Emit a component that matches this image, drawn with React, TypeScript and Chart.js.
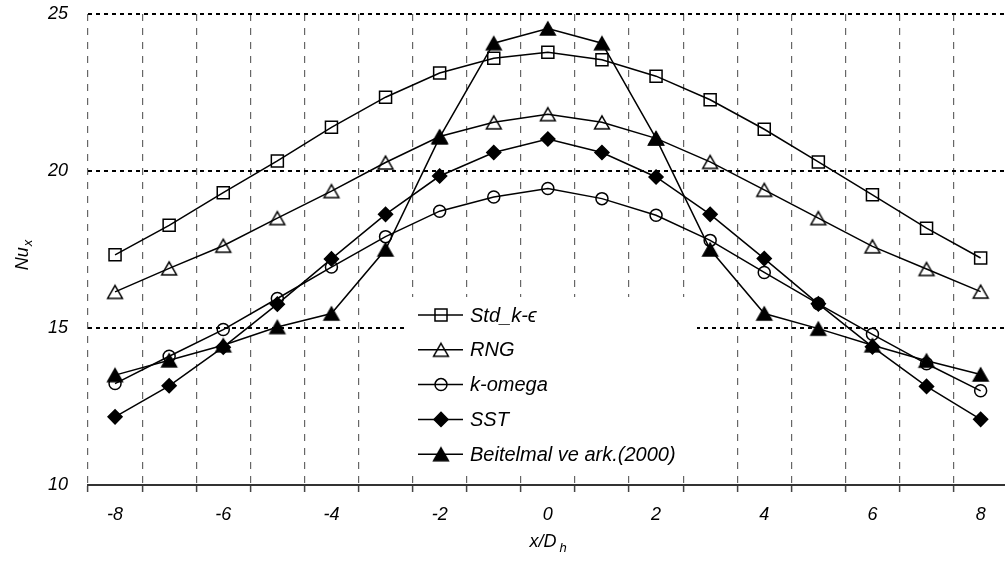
import React, { useEffect, useRef } from "react";
import { Chart, registerables } from "chart.js";

Chart.register(...registerables);

const xPositions = [-8, -7, -6, -5, -4, -3, -2, -1, 0, 1, 2, 3, 4, 5, 6, 7, 8];
const xTickLabels = [-8, -6, -4, -2, 0, 2, 4, 6, 8];
const xGridBoundaries = [-8.5, -7.5, -6.5, -5.5, -4.5, -3.5, -2.5, -1.5, -0.5, 0.5, 1.5, 2.5, 3.5, 4.5, 5.5, 6.5, 7.5];
const yTickValues = [10, 15, 20, 25];

const stdKe = [17.33, 18.27, 19.31, 20.32, 21.39, 22.35, 23.12, 23.59, 23.78, 23.54, 23.02, 22.27, 21.33, 20.29, 19.24, 18.18, 17.23];
const rng = [16.15, 16.9, 17.62, 18.5, 19.36, 20.27, 21.1, 21.55, 21.81, 21.55, 21.04, 20.29, 19.4, 18.5, 17.6, 16.88, 16.16];
const kOmega = [13.23, 14.1, 14.95, 15.94, 16.94, 17.91, 18.72, 19.17, 19.44, 19.12, 18.59, 17.79, 16.77, 15.77, 14.8, 13.86, 13.0];
const sst = [12.17, 13.16, 14.39, 15.76, 17.2, 18.62, 19.84, 20.59, 21.02, 20.59, 19.81, 18.62, 17.21, 15.77, 14.4, 13.14, 12.09];
const beitelmal = [13.5, 13.97, 14.45, 15.03, 15.46, 17.5, 21.07, 24.07, 24.54, 24.07, 21.04, 17.5, 15.46, 14.98, 14.45, 13.96, 13.52];

const seriesNames = ["Std_k-ϵ", "RNG", "k-omega", "SST", "Beitelmal ve ark.(2000)"];
const seriesValues = [stdKe, rng, kOmega, sst, beitelmal];
const seriesStyles = ["rect", "triangle", "circle", "rectRot", "triangle"];
const seriesFilled = [false, false, false, true, true];
const seriesRadius = [8.5, 8.5, 6, 7, 8.5];

const FONT = '"Liberation Sans", Arial, sans-serif';
const PLOT_TOP = 14;
const PLOT_RIGHT = 1005;

// triangle whose bounding box is centred on the point (as in the original)
function makeTriangleCanvas(filled: boolean): HTMLCanvasElement {
  const c = document.createElement("canvas");
  c.width = 20;
  c.height = 19;
  const g = c.getContext("2d") as CanvasRenderingContext2D;
  const w = 7.4;
  const h = 12.8;
  const cx = 10;
  const cy = 9.5;
  g.beginPath();
  g.moveTo(cx, cy - h / 2);
  g.lineTo(cx + w, cy + h / 2);
  g.lineTo(cx - w, cy + h / 2);
  g.closePath();
  g.lineWidth = 1.5;
  g.strokeStyle = "#000";
  if (filled) {
    g.fillStyle = "#000";
    g.fill();
  }
  g.stroke();
  return c;
}

function drawMarker(ctx: CanvasRenderingContext2D, style: any, x: number, y: number, r: number, filled: boolean) {
  if (typeof style !== "string") {
    ctx.drawImage(style, x - style.width / 2, y - style.height / 2);
    return;
  }
  ctx.beginPath();
  if (style === "circle") {
    ctx.arc(x, y, r, 0, Math.PI * 2);
  } else if (style === "rect") {
    const s = r * Math.SQRT1_2;
    ctx.rect(x - s, y - s, 2 * s, 2 * s);
  } else if (style === "rectRot") {
    ctx.moveTo(x, y - r);
    ctx.lineTo(x + r, y);
    ctx.lineTo(x, y + r);
    ctx.lineTo(x - r, y);
    ctx.closePath();
  }
  if (filled) {
    ctx.fillStyle = "#000";
    ctx.fill();
  }
  ctx.stroke();
}

const plotAreaPlugin = {
  id: "plotArea",
  afterLayout(chart: any) {
    const ys = chart.scales.y;
    const xs = chart.scales.x;
    const area = chart.chartArea;
    area.top = PLOT_TOP;
    area.height = area.bottom - PLOT_TOP;
    area.right = PLOT_RIGHT;
    area.width = PLOT_RIGHT - area.left;
    ys.top = PLOT_TOP;
    ys.height = ys.bottom - PLOT_TOP;
    xs.right = PLOT_RIGHT;
    xs.width = PLOT_RIGHT - xs.left;
    ys.configure();
    xs.configure();
  },
};

function makeLegendPlugin(styles: any[]) {
  return {
    id: "boxLegend",
    beforeDatasetsDraw(chart: any) {
      const ctx = chart.ctx as CanvasRenderingContext2D;
      ctx.save();
      ctx.fillStyle = "#fff";
      ctx.fillRect(407, 297, 290, 177);
      const rowY0 = 315;
      const rowGap = 34.8;
      seriesNames.forEach((name, i) => {
        const y = rowY0 + i * rowGap;
        ctx.strokeStyle = "#000";
        ctx.lineWidth = 1.5;
        ctx.beginPath();
        ctx.moveTo(418, y);
        ctx.lineTo(463, y);
        ctx.stroke();
        drawMarker(ctx, styles[i], 441, y, seriesRadius[i], seriesFilled[i]);
        ctx.fillStyle = "#000";
        ctx.font = `italic 20px ${FONT}`;
        ctx.textAlign = "left";
        ctx.textBaseline = "middle";
        ctx.fillText(name, 470, y + 1);
      });
      ctx.restore();
    },
  };
}

const titlePlugin = {
  id: "axisTitles",
  afterDraw(chart: any) {
    const ctx = chart.ctx as CanvasRenderingContext2D;
    ctx.save();
    ctx.fillStyle = "#000";
    ctx.textBaseline = "alphabetic";
    ctx.textAlign = "left";
    const main = `italic 18px ${FONT}`;
    const sub = `italic 13px ${FONT}`;
    ctx.font = main;
    const wMain = ctx.measureText("x/D").width;
    ctx.font = sub;
    const wSub = ctx.measureText("h").width;
    const totalX = wMain + 3 + wSub;
    const cx = 548;
    const baseX = 547;
    ctx.font = main;
    ctx.fillText("x/D", cx - totalX / 2, baseX);
    ctx.font = sub;
    ctx.fillText("h", cx - totalX / 2 + wMain + 3, baseX + 5);
    ctx.font = main;
    const wNu = ctx.measureText("Nu").width;
    ctx.font = sub;
    const wx = ctx.measureText("x").width;
    const totalY = wNu + 1 + wx;
    ctx.translate(28, 255);
    ctx.rotate(-Math.PI / 2);
    ctx.font = main;
    ctx.fillText("Nu", -totalY / 2, 0);
    ctx.font = sub;
    ctx.fillText("x", -totalY / 2 + wNu + 1, 4);
    ctx.restore();
  },
};

export default function App() {
  const canvasRef = useRef<HTMLCanvasElement | null>(null);

  useEffect(() => {
    document.body.style.margin = "0";
    const canvas = canvasRef.current;
    if (!canvas) return;
    const styles: any[] = seriesStyles.map((s, i) => (s === "triangle" ? makeTriangleCanvas(seriesFilled[i]) : s));
    const datasets = seriesNames.map((name, i) => ({
      label: name,
      data: xPositions.map((x, j) => ({ x, y: seriesValues[i][j] })),
      borderColor: "#000",
      borderWidth: 1.5,
      pointStyle: styles[i],
      pointRadius: seriesRadius[i],
      pointBorderWidth: 1.5,
      pointBorderColor: "#000",
      pointBackgroundColor: seriesFilled[i] ? "#000" : "transparent",
      tension: 0,
      fill: false,
    }));
    const isBoundary = (v: number) => xGridBoundaries.includes(v);
    const chart = new Chart(canvas, {
      type: "line",
      data: { datasets },
      plugins: [plotAreaPlugin, makeLegendPlugin(styles), titlePlugin],
      options: {
        animation: false,
        responsive: false,
        maintainAspectRatio: false,
        layout: { padding: { top: 14, left: 0, right: 0, bottom: 0 } },
        plugins: { legend: { display: false }, tooltip: { enabled: false } },
        scales: {
          x: {
            type: "linear",
            min: -8.5,
            max: 8.45,
            afterBuildTicks: (scale: any) => {
              const vals = [...xGridBoundaries, ...xTickLabels].sort((a, b) => a - b);
              scale.ticks = vals.map((v) => ({ value: v }));
            },
            afterFit: (scale: any) => {
              scale.height = 93;
            },
            ticks: {
              autoSkip: false,
              maxRotation: 0,
              minRotation: 0,
              padding: 12,
              color: "#000",
              font: { family: FONT, size: 18, style: "italic" },
              callback: (v: any) => (xTickLabels.includes(Number(v)) ? String(v) : ""),
            },
            grid: {
              color: (c: any) => (c.tick && isBoundary(c.tick.value) ? "#666" : "transparent"),
              tickColor: (c: any) => (c.tick && isBoundary(c.tick.value) ? "#444" : "transparent"),
              lineWidth: 1.2,
              tickWidth: 1.5,
              tickLength: 7,
              drawTicks: true,
            },
            border: { display: true, color: "#333", width: 2, dash: [7, 7] },
          },
          y: {
            type: "linear",
            min: 10,
            max: 25,
            afterBuildTicks: (scale: any) => {
              scale.ticks = yTickValues.map((v) => ({ value: v }));
            },
            afterFit: (scale: any) => {
              scale.width = 88;
            },
            ticks: {
              padding: 20,
              color: "#000",
              font: { family: FONT, size: 18, style: "italic" },
            },
            grid: {
              color: (c: any) => (c.tick && c.tick.value === 10 ? "transparent" : "#000"),
              lineWidth: 2,
              drawTicks: false,
            },
            border: { display: false, dash: [4, 4] },
          },
        },
      } as any,
    });
    return () => chart.destroy();
  }, []);

  return (
    <div style={{ position: "fixed", left: 0, top: 0, width: 1005, height: 578, background: "#fff" }}>
      <canvas ref={canvasRef} width={1005} height={578} style={{ width: 1005, height: 578, display: "block" }} />
    </div>
  );
}
